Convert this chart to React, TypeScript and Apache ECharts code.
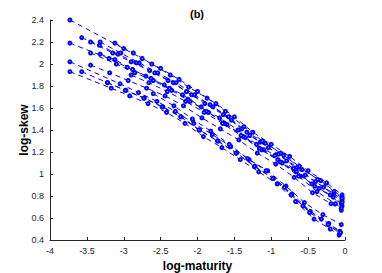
import React, { useEffect, useRef } from "react";
import * as echarts from "echarts";

// log-maturity, log-skew pairs for each observation date
const s1 = [[-3.73,2.40],[-3.0,2.14],[-2.75,2.05],[-2.5,1.96],[-2.25,1.86],[-2.0,1.75],[-1.75,1.64],[-1.5,1.52],[-1.25,1.38],[-1.0,1.27],[-0.75,1.16],[-0.5,1.03],[-0.25,0.92],[-0.04,0.81]];
const s2 = [[-3.73,2.19],[-3.2,2.05],[-2.95,1.97],[-2.7,1.89],[-2.45,1.81],[-2.2,1.72],[-1.95,1.61],[-1.7,1.51],[-1.45,1.40],[-1.2,1.27],[-0.95,1.17],[-0.7,1.05],[-0.45,0.91],[-0.2,0.81],[-0.04,0.71]];
const s3 = [[-3.73,2.02],[-3.05,1.82],[-2.8,1.74],[-2.55,1.66],[-2.3,1.57],[-2.05,1.46],[-1.8,1.36],[-1.55,1.25],[-1.3,1.13],[-1.05,1.03],[-0.8,0.89],[-0.55,0.74],[-0.3,0.63],[-0.05,0.54]];
const s4 = [[-3.73,1.93],[-3.17,1.78],[-2.92,1.71],[-2.67,1.64],[-2.42,1.56],[-2.17,1.46],[-1.92,1.34],[-1.67,1.24],[-1.42,1.13],[-1.17,1.02],[-0.92,0.91],[-0.67,0.75],[-0.42,0.59],[-0.2,0.50],[-0.08,0.445]];
const s5 = [[-3.57,2.24],[-3.33,2.17],[-3.08,2.09],[-2.83,2.01],[-2.58,1.92],[-2.33,1.83],[-2.08,1.72],[-1.83,1.63],[-1.58,1.52],[-1.33,1.38],[-1.08,1.28],[-0.83,1.17],[-0.58,1.04],[-0.33,0.94],[-0.04,0.79]];
const s6 = [[-3.57,1.93],[-3.22,1.83],[-2.97,1.76],[-2.72,1.69],[-2.47,1.61],[-2.22,1.52],[-1.97,1.40],[-1.72,1.30],[-1.47,1.19],[-1.22,1.07],[-0.97,0.96],[-0.72,0.82],[-0.47,0.66],[-0.22,0.55],[-0.07,0.48]];
const s7 = [[-3.45,2.20],[-3.15,2.10],[-2.9,2.02],[-2.65,1.94],[-2.4,1.85],[-2.15,1.75],[-1.9,1.64],[-1.65,1.54],[-1.4,1.41],[-1.15,1.29],[-0.9,1.18],[-0.65,1.06],[-0.4,0.93],[-0.15,0.82],[-0.04,0.77]];
const s8 = [[-3.45,2.10],[-3.1,2.00],[-2.85,1.92],[-2.6,1.85],[-2.35,1.76],[-2.1,1.66],[-1.85,1.56],[-1.6,1.45],[-1.35,1.33],[-1.1,1.22],[-0.85,1.10],[-0.6,0.98],[-0.35,0.87],[-0.05,0.73]];
const s9 = [[-3.45,1.99],[-3.19,1.92],[-2.94,1.85],[-2.69,1.78],[-2.44,1.71],[-2.19,1.62],[-1.94,1.51],[-1.69,1.41],[-1.44,1.31],[-1.19,1.19],[-0.94,1.09],[-0.69,0.97],[-0.44,0.83],[-0.19,0.73],[-0.05,0.67]];
const s10 = [[-3.32,2.20],[-3.04,2.10],[-2.79,2.01],[-2.54,1.92],[-2.29,1.83],[-2.04,1.72],[-1.79,1.61],[-1.54,1.49],[-1.29,1.35],[-1.04,1.24],[-0.79,1.12],[-0.54,0.99],[-0.29,0.88],[-0.04,0.75]];
const s11 = [[-3.32,2.09],[-3.12,2.04],[-2.88,1.95],[-2.63,1.87],[-2.38,1.78],[-2.13,1.68],[-1.88,1.57],[-1.63,1.46],[-1.38,1.34],[-1.13,1.22],[-0.88,1.11],[-0.63,0.98],[-0.38,0.84],[-0.13,0.73],[-0.05,0.69]];
const s12 = [[-3.12,2.19],[-2.87,2.10],[-2.62,2.00],[-2.37,1.90],[-2.12,1.79],[-1.87,1.69],[-1.62,1.57],[-1.37,1.43],[-1.12,1.30],[-0.87,1.19],[-0.62,1.07],[-0.37,0.95],[-0.15,0.84],[-0.04,0.78]];
const s13 = [[-3.22,1.83],[-2.98,1.76],[-2.73,1.69],[-2.48,1.61],[-2.23,1.52],[-1.98,1.40],[-1.73,1.30],[-1.48,1.19],[-1.23,1.07],[-0.98,0.96],[-0.73,0.81],[-0.48,0.65],[-0.23,0.54],[-0.07,0.46]];
const s14 = [[-2.9,1.90],[-2.66,1.83],[-2.41,1.75],[-2.16,1.66],[-1.91,1.56],[-1.66,1.46],[-1.41,1.35],[-1.16,1.23],[-0.91,1.13],[-0.66,1.02],[-0.41,0.89],[-0.16,0.79],[-0.04,0.74]];
const s15 = [[-2.6,1.73],[-2.32,1.62],[-2.07,1.50],[-1.82,1.39],[-1.57,1.27],[-1.32,1.14],[-1.07,1.03],[-0.82,0.88],[-0.57,0.71],[-0.32,0.59],[-0.06,0.47]];

const allSeries = [s1, s2, s3, s4, s5, s6, s7, s8, s9, s10, s11, s12, s13, s14, s15];

const xMin = -4;
const xMax = 0;
const yMin = 0.4;
const yMax = 2.4;

const titleText = "(b)";
const xName = "log-maturity";
const yName = "log-skew";

const FONT = "'Liberation Sans', Arial, Helvetica, sans-serif";
const AXIS_COLOR = "#262626";
const BLUE = "#0000ff";

export default function App() {
  const ref = useRef<HTMLDivElement>(null);
  useEffect(() => {
    if (!ref.current) return;
    const chart = echarts.init(ref.current, null, { renderer: "svg" });
    chart.setOption({
      animation: false,
      backgroundColor: "#ffffff",
      textStyle: { fontFamily: FONT },
      grid: {
        left: 50,
        right: 37,
        top: 20,
        bottom: 33,
        containLabel: false,
        outerBoundsMode: "none",
      },
      graphic: [
        {
          id: "title",
          type: "text",
          x: 197,
          y: 14,
          style: {
            text: titleText,
            fontFamily: FONT,
            fontSize: 11,
            fontWeight: "bold",
            fill: "#000",
            textAlign: "center",
            textVerticalAlign: "middle",
          },
        },
      ],
      xAxis: {
        type: "value",
        min: xMin,
        max: xMax,
        interval: 0.5,
        name: xName,
        nameLocation: "middle",
        nameGap: 19,
        nameTextStyle: { fontFamily: FONT, fontSize: 12, fontWeight: "bold", color: "#000" },
        axisLine: { show: true, onZero: false, lineStyle: { color: AXIS_COLOR, width: 1 } },
        axisTick: { show: true, inside: true, length: 3, lineStyle: { color: AXIS_COLOR } },
        axisLabel: {
          fontFamily: FONT,
          fontSize: 9,
          color: AXIS_COLOR,
          margin: 6,
          showMinLabel: false,
          showMaxLabel: true,
        },
        splitLine: { show: false },
      },
      yAxis: {
        type: "value",
        min: yMin,
        max: yMax,
        interval: 0.2,
        name: yName,
        nameLocation: "middle",
        nameGap: 20,
        nameMoveOverlap: false,
        nameTextStyle: { fontFamily: FONT, fontSize: 12, fontWeight: "bold", color: "#000" },
        axisLine: { show: true, onZero: false, lineStyle: { color: AXIS_COLOR, width: 1 } },
        axisTick: { show: true, inside: true, length: 3, lineStyle: { color: AXIS_COLOR } },
        axisLabel: {
          fontFamily: FONT,
          fontSize: 9,
          color: AXIS_COLOR,
          margin: 6,
          showMinLabel: true,
          showMaxLabel: true,
        },
        splitLine: { show: false },
      },
      series: allSeries.map((d) => ({
        type: "line",
        data: d,
        symbol: "emptyCircle",
        symbolSize: 3,
        showSymbol: true,
        silent: true,
        lineStyle: { color: BLUE, width: 1, type: [5, 4] },
        itemStyle: { color: BLUE, borderColor: BLUE, borderWidth: 1 },
      })),
    });
    // x-axis minimum tick label, placed through the axis scale
    const p = chart.convertToPixel({ gridIndex: 0 }, [xMin, yMin]) as number[];
    if (p && isFinite(p[0])) {
      chart.setOption({
        graphic: [
          {
            id: "xminlabel",
            type: "text",
            x: p[0],
            y: p[1] + 6,
            style: {
              text: String(xMin),
              fontFamily: FONT,
              fontSize: 9,
              fill: AXIS_COLOR,
              textAlign: "center",
              textVerticalAlign: "top",
            },
          },
        ],
      });
    }
    return () => chart.dispose();
  }, []);
  return (
    <div
      ref={ref}
      style={{ position: "fixed", left: 0, top: 0, width: 382, height: 273 }}
    />
  );
}
